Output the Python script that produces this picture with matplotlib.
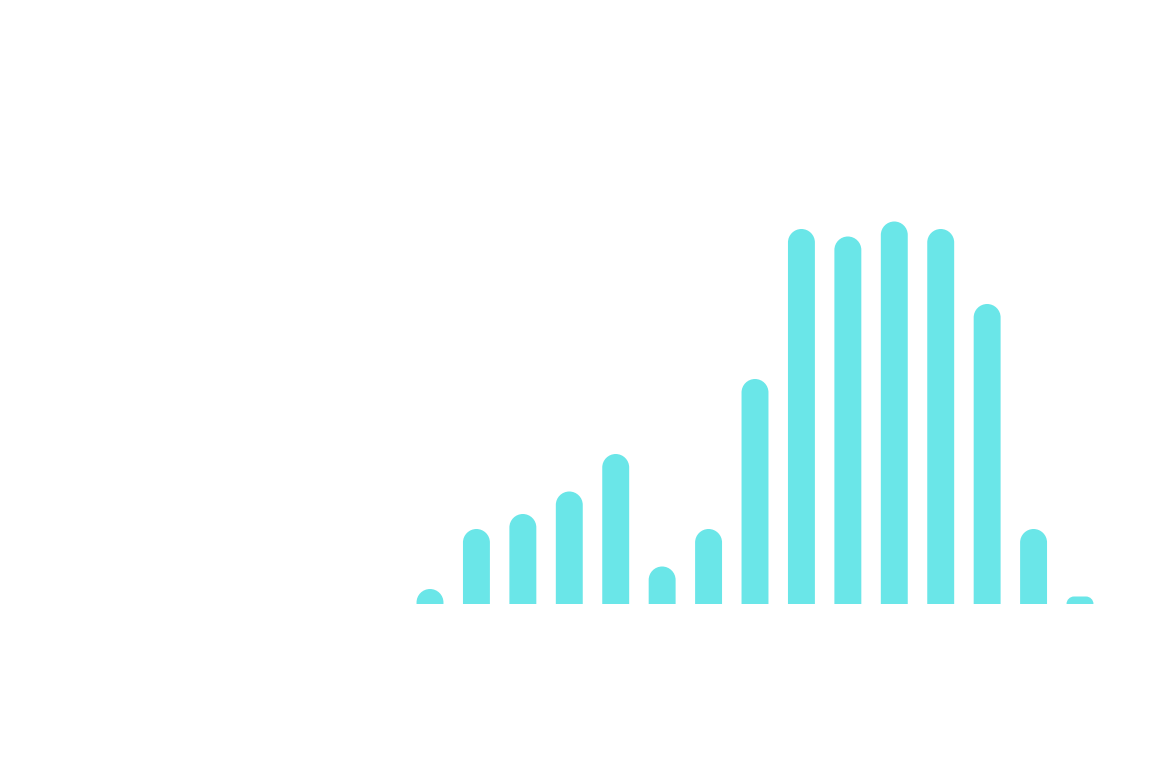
import matplotlib
matplotlib.use("Agg")
import matplotlib.pyplot as plt
from matplotlib.path import Path
from matplotlib.patches import PathPatch

# bar values
categories = list(range(15))
values = [2, 10, 12, 15, 20, 5, 10, 30, 50, 49, 51, 50, 40, 10, 1]

color = "#6ae6e8"
bar_w = 0.58
ymax = 60


def rounded_bar(x, h, w, rx, ry):
    # rectangle with rounded top corners, radius shrinks for short bars
    ry2 = min(ry, h)
    rx2 = rx * ry2 / ry
    k = 0.5523
    l, r = x - w / 2, x + w / 2
    verts = [
        (l, 0), (l, h - ry2),
        (l, h - ry2 + k * ry2), (l + rx2 - k * rx2, h), (l + rx2, h),
        (r - rx2, h),
        (r - rx2 + k * rx2, h), (r, h - ry2 + k * ry2), (r, h - ry2),
        (r, 0), (l, 0),
    ]
    codes = [Path.MOVETO, Path.LINETO,
             Path.CURVE4, Path.CURVE4, Path.CURVE4,
             Path.LINETO,
             Path.CURVE4, Path.CURVE4, Path.CURVE4,
             Path.LINETO, Path.CLOSEPOLY]
    return Path(verts, codes)


fig = plt.figure(figsize=(11.68, 7.58), dpi=100)
W, H = 1168, 758
step = 650 / 14
left = 430 - step / 2
right = 1080 + step / 2
px_per_unit = 7.5
bottom = H - 604
ax = fig.add_axes([left / W, bottom / H, (right - left) / W, ymax * px_per_unit / H])
ax.set_xlim(-0.5, len(categories) - 0.5)
ax.set_ylim(0, ymax)
ax.axis("off")

rx = 0.5 * bar_w
ry = (rx * step) / px_per_unit

for c, v in zip(categories, values):
    ax.add_patch(PathPatch(rounded_bar(c, v, bar_w, rx, ry), facecolor=color,
                           edgecolor="none"))

fig.savefig("out.png", dpi=100)
